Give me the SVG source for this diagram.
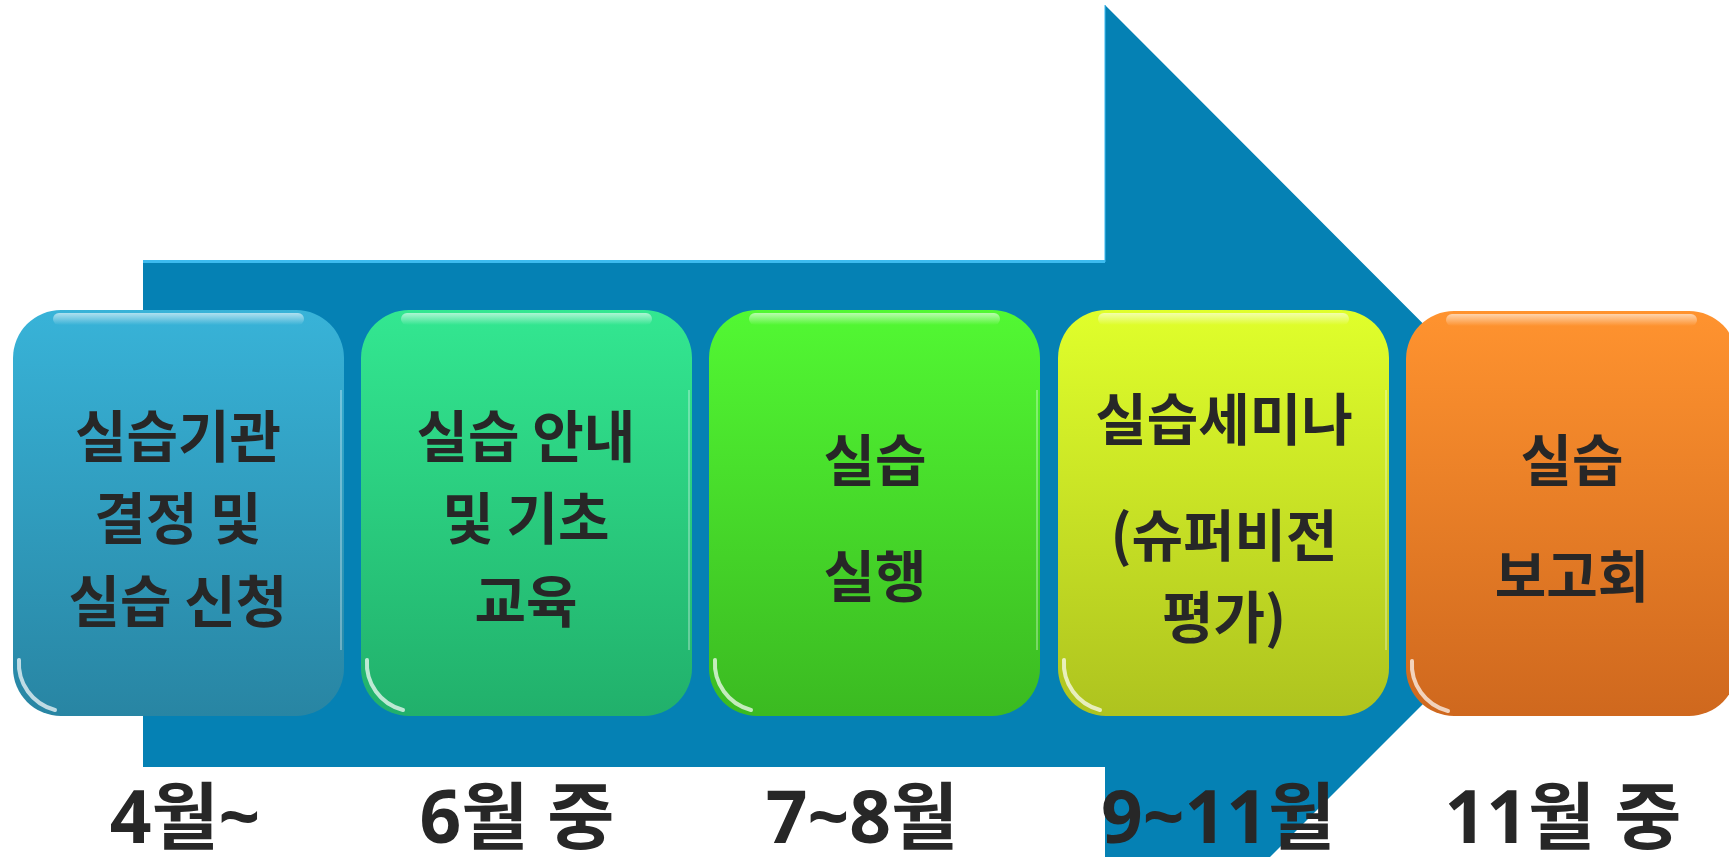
<svg xmlns="http://www.w3.org/2000/svg" width="1729" height="857" viewBox="0 0 1729 857">
<style>
.box-text{font-family:"Noto Sans CJK KR","Noto Sans",sans-serif;font-weight:700;font-size:56px;fill:#272727;text-anchor:middle}
.label{font-family:"Open Sans","Noto Sans CJK KR",sans-serif;font-weight:700;font-size:73px;fill:#272727;text-anchor:middle}
.shape{stroke:none}
</style>
<defs>
<linearGradient id="g1" x1="0" y1="0" x2="0" y2="1"><stop offset="0" stop-color="#38B3D8"/><stop offset="1" stop-color="#2885A3"/></linearGradient>
<linearGradient id="g2" x1="0" y1="0" x2="0" y2="1"><stop offset="0" stop-color="#33E791"/><stop offset="1" stop-color="#21B06B"/></linearGradient>
<linearGradient id="g3" x1="0" y1="0" x2="0" y2="1"><stop offset="0" stop-color="#52F833"/><stop offset="1" stop-color="#3BBA21"/></linearGradient>
<linearGradient id="g4" x1="0" y1="0" x2="0" y2="1"><stop offset="0" stop-color="#E0FF2B"/><stop offset="1" stop-color="#AEC31F"/></linearGradient>
<linearGradient id="g5" x1="0" y1="0" x2="0" y2="1"><stop offset="0" stop-color="#FF932F"/><stop offset="1" stop-color="#CF681E"/></linearGradient>
<linearGradient id="topGloss" x1="0" y1="0" x2="0" y2="1"><stop offset="0" stop-color="#FFFFFF" stop-opacity="0.6"/><stop offset="1" stop-color="#FFFFFF" stop-opacity="0"/></linearGradient>
<g id="gloss">
<rect x="40" y="3" width="251" height="12" rx="6" fill="url(#topGloss)"/>
<path d="M6,350 A48,48 0 0 0 42,400" fill="none" stroke="#FFFFFF" stroke-opacity="0.7" stroke-width="4" stroke-linecap="round"/>
<path d="M328,80 L328,340" fill="none" stroke="#FFFFFF" stroke-opacity="0.3" stroke-width="2"/>
</g>
</defs>
<rect width="1729" height="857" fill="#FFFFFF"/>
<g id="connectors">
<polygon class="shape" points="143,260 1105,260 1105,5 1613,514 1105,1022 1105,767 143,767" fill="#0581B4"/>
<path d="M143,261.5 L1105,261.5" stroke="#3DBBEF" stroke-width="3" fill="none"/>
<path d="M1105,5 L1105,262" stroke="#3DBBEF" stroke-width="1.5" fill="none" opacity="0.7"/>
</g>
<g id="node1">
<rect x="13" y="310" width="331" height="406" rx="48" fill="url(#g1)"/>
<use href="#gloss" x="13" y="310"/>
<text class="box-text" x="178" y="457">실습기관</text>
<text class="box-text" x="178" y="539">결정 및</text>
<text class="box-text" x="178" y="622">실습 신청</text>
</g>
<g id="node2">
<rect x="361" y="310" width="331" height="406" rx="48" fill="url(#g2)"/>
<use href="#gloss" x="361" y="310"/>
<text class="box-text" x="526" y="457">실습 안내</text>
<text class="box-text" x="526" y="539">및 기초</text>
<text class="box-text" x="526" y="622">교육</text>
</g>
<g id="node3">
<rect x="709" y="310" width="331" height="406" rx="48" fill="url(#g3)"/>
<use href="#gloss" x="709" y="310"/>
<text class="box-text" x="875" y="481">실습</text>
<text class="box-text" x="875" y="597">실행</text>
</g>
<g id="node4">
<rect x="1058" y="310" width="331" height="406" rx="48" fill="url(#g4)"/>
<use href="#gloss" x="1058" y="310"/>
<text class="box-text" x="1224" y="440">실습세미나</text>
<text class="box-text" x="1224" y="556">(슈퍼비전</text>
<text class="box-text" x="1224" y="638">평가)</text>
</g>
<g id="node5">
<rect x="1406" y="311" width="331" height="405" rx="48" fill="url(#g5)"/>
<use href="#gloss" x="1406" y="311"/>
<text class="box-text" x="1572" y="481">실습</text>
<text class="box-text" x="1572" y="597">보고회</text>
</g>
<g id="labels">
<text class="label" x="185" y="843">4월~</text>
<text class="label" x="517" y="843">6월 중</text>
<text class="label" x="862" y="843">7~8월</text>
<text class="label" x="1218" y="843">9~11월</text>
<text class="label" x="1563" y="843">11월 중</text>
</g>
</svg>
